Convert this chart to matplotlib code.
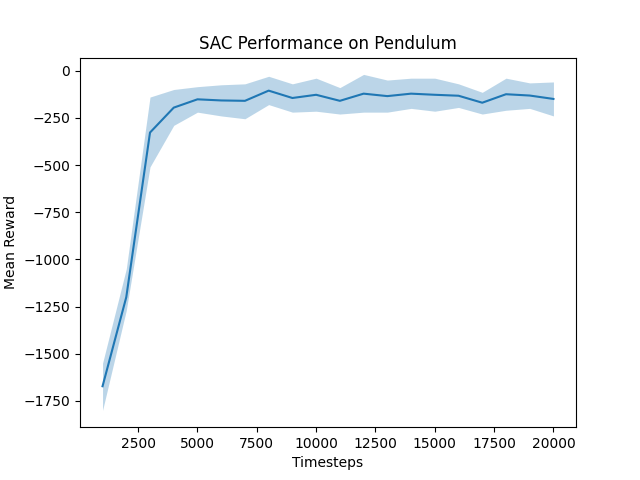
import matplotlib
matplotlib.use("Agg")
import matplotlib.pyplot as plt

timesteps = [1000, 2000, 3000, 4000, 5000, 6000, 7000, 8000, 9000, 10000,
             11000, 12000, 13000, 14000, 15000, 16000, 17000, 18000, 19000, 20000]
mean_reward = [-1672, -1200, -328, -196, -152, -158, -160, -106, -145, -128,
               -160, -122, -135, -122, -128, -133, -170, -125, -132, -150]
upper = [-1550, -1050, -140, -100, -85, -75, -70, -30, -70, -40,
         -90, -20, -50, -40, -40, -70, -115, -40, -65, -60]
lower = [-1800, -1270, -510, -290, -220, -240, -255, -180, -220, -215,
         -230, -220, -220, -200, -215, -195, -230, -210, -200, -240]

fig, ax = plt.subplots(figsize=(6.4, 4.8), dpi=100)
ax.plot(timesteps, mean_reward, color="tab:blue")
ax.fill_between(timesteps, lower, upper, color="tab:blue", alpha=0.3, linewidth=0)
ax.set_title("SAC Performance on Pendulum")
ax.set_xlabel("Timesteps")
ax.set_ylabel("Mean Reward")
fig.savefig("out.png")
